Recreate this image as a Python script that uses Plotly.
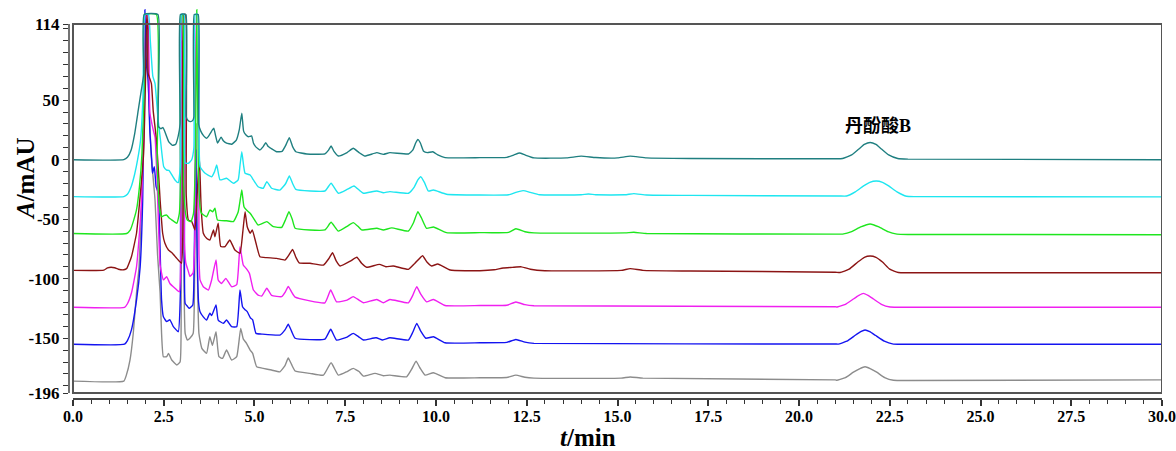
import plotly.graph_objects as go

# ---- data: (time [min], absorbance [mAU]) ----
teal_pts = [(0,0),(1.40,0),(1.50,2),(1.60,8),(1.70,22),(1.80,42),(1.88,58),(1.95,72),(1.96,122),(2.34,122),(2.35,28),(2.42,26),(2.48,27),(2.55,22),(2.64,15),(2.74,12),(2.83,13),(2.90,20),(2.95,30),(2.96,122),(3.11,122),(3.12,36),(3.17,33),(3.24,32),(3.30,33),(3.33,36),(3.34,122),(3.45,122),(3.46,30),(3.52,24),(3.60,20),(3.68,18),(3.76,21),(3.84,25),(3.88,26.5),(3.93,20),(3.98,14),(4.04,17),(4.08,19),(4.14,16),(4.23,14),(4.37,13),(4.50,16.5),(4.58,25),(4.65,39),(4.70,24),(4.76,21),(4.83,19.3),(4.92,20),(4.97,14),(5.03,11),(5.15,8.2),(5.24,11),(5.31,14.3),(5.38,11),(5.45,9.6),(5.61,6.7),(5.76,7),(5.86,12),(5.96,18.5),(6.05,11),(6.14,6.7),(6.44,4.8),(6.94,4.8),(7.04,8),(7.11,11.5),(7.19,7),(7.31,3.1),(7.55,6),(7.72,9.6),(7.88,6),(8.04,3.1),(8.37,5.9),(8.55,4.5),(8.73,5.9),(9.24,4.8),(9.36,8),(9.44,14),(9.50,17.1),(9.57,14),(9.66,7),(9.76,5.9),(9.91,6.7),(10.05,4),(10.25,1.7),(11.21,1.7),(11.95,2),(12.15,4),(12.30,5.6),(12.45,4),(12.70,1.5),(13.6,1.5),(14.0,3),(14.4,1.8),(15.0,1.5),(15.35,3),(15.8,1.5),(17.0,1),(21.0,0.8),(21.2,1),(21.45,4),(21.65,9),(21.8,12.8),(21.96,14.5),(22.12,12.8),(22.27,9),(22.47,4),(22.72,1),(23.0,0.5),(30,0)]

cyan_pts = [(0,-31),(1.40,-31),(1.50,-29),(1.60,-23),(1.70,-12),(1.78,0),(1.86,16),(1.93,55),(1.98,122),(2.08,122),(2.13,100),(2.20,70),(2.26,64),(2.34,35),(2.41,16.5),(2.50,-5.9),(2.58,-8.7),(2.64,-9),(2.69,-11),(2.81,-17),(2.90,-19.3),(2.96,-5),(2.99,122),(3.06,122),(3.09,-2.8),(3.18,-3),(3.27,0),(3.33,10),(3.37,122),(3.44,122),(3.50,-5.9),(3.64,-11.4),(3.82,-14.3),(3.90,-10),(3.96,-4.5),(4.05,-17),(4.23,-15.6),(4.42,-19.8),(4.55,-17),(4.60,-5),(4.65,6.7),(4.70,-5),(4.74,-11.4),(4.88,-12.9),(4.97,-17),(5.10,-22.7),(5.24,-24),(5.34,-18.5),(5.47,-24),(5.70,-25.5),(5.86,-20),(5.96,-13.7),(6.05,-20),(6.14,-24.9),(6.94,-26.3),(7.11,-19.8),(7.31,-28.2),(7.55,-25),(7.74,-22.1),(7.90,-26),(8.00,-28.2),(8.37,-26.3),(8.55,-27.8),(8.73,-26.8),(9.24,-28.2),(9.40,-23),(9.50,-17),(9.58,-14.3),(9.68,-19),(9.79,-26.3),(9.93,-25.5),(10.29,-29),(11.21,-29.7),(12.0,-29.5),(12.2,-27.5),(12.4,-26),(12.6,-27.5),(12.85,-29.5),(14.0,-29.5),(14.2,-28.8),(14.4,-29.5),(15.2,-29.5),(15.45,-28.5),(15.8,-29.7),(17,-30),(21.1,-30.5),(21.31,-30.5),(21.55,-27),(21.78,-22),(21.95,-19),(22.13,-17.9),(22.3,-19),(22.47,-22),(22.7,-27),(22.96,-30.7),(23.2,-31),(30,-31.2)]

green_pts = [(0,-62),(1.48,-62),(1.58,-59),(1.66,-52),(1.75,-42),(1.83,-23),(1.90,5),(1.96,60),(1.98,122),(2.30,122),(2.32,0),(2.38,-40),(2.44,-47.9),(2.50,-47),(2.58,-46.5),(2.65,-49),(2.72,-50.5),(2.86,-53.4),(2.93,-45),(2.96,-20),(2.98,122),(3.02,122),(3.05,-20),(3.10,-45),(3.15,-50.7),(3.25,-52),(3.32,-45),(3.37,0),(3.41,126),(3.45,0),(3.50,-40),(3.54,-45),(3.68,-47.9),(3.77,-42.3),(3.85,-43.7),(3.91,-40.8),(3.98,-50.7),(4.23,-51.3),(4.42,-52),(4.55,-44),(4.60,-35),(4.65,-25.5),(4.71,-39.5),(4.78,-42.3),(4.88,-45),(4.97,-49),(5.10,-54.9),(5.34,-52),(5.52,-56.3),(5.75,-56.8),(5.86,-50),(5.95,-43.7),(6.04,-50),(6.12,-57.6),(6.94,-59),(7.11,-52.6),(7.31,-60),(7.55,-56),(7.72,-52.9),(7.85,-56),(7.95,-59),(8.37,-57.6),(8.55,-59),(8.78,-57.3),(9.24,-59.9),(9.38,-53),(9.50,-43.7),(9.60,-49),(9.74,-57.6),(9.93,-56.5),(10.29,-61.3),(11.21,-61.3),(12.0,-61),(12.2,-58),(12.45,-60.5),(12.7,-61.5),(15.2,-61.5),(15.45,-61),(15.8,-62),(21.0,-62.5),(21.2,-62.5),(21.45,-60.5),(21.7,-56.5),(21.96,-54),(22.2,-56.5),(22.45,-60.5),(22.7,-62.5),(23,-62.8),(30,-63)]

brown_pts = [(0,-93),(0.85,-92.8),(0.95,-90.8),(1.05,-90.3),(1.15,-90.8),(1.25,-92),(1.40,-92.5),(1.48,-91.5),(1.61,-81.5),(1.75,-61.8),(1.84,-33.9),(1.94,2.5),(2.0,70),(2.03,122),(2.06,110),(2.07,72.6),(2.16,64),(2.21,41),(2.30,16.5),(2.40,-33.9),(2.47,-61.8),(2.53,-70),(2.63,-75.9),(2.72,-78),(2.86,-82.9),(2.99,-87),(3.03,-40),(3.05,122),(3.10,122),(3.12,-30),(3.18,-50.7),(3.27,-52),(3.36,-59),(3.42,-30),(3.48,3),(3.53,-40),(3.59,-61.8),(3.68,-66),(3.77,-67.5),(3.87,-59),(3.91,-64.7),(4.00,-53.4),(4.07,-73),(4.19,-73),(4.32,-67.5),(4.46,-75.9),(4.60,-78.7),(4.68,-60),(4.74,-43.7),(4.80,-56.3),(4.88,-61.8),(4.94,-59),(5.04,-70),(5.15,-81.5),(5.34,-82.3),(5.61,-82.9),(5.84,-84.3),(5.95,-80),(6.05,-75.4),(6.14,-82),(6.23,-86.6),(6.53,-87),(6.90,-88.5),(7.05,-83),(7.15,-78.2),(7.25,-85),(7.36,-89.3),(7.65,-85),(7.82,-82),(7.95,-87),(8.09,-90.4),(8.44,-87.9),(8.62,-89.9),(8.82,-89.3),(9.24,-92.1),(9.42,-87),(9.63,-80.7),(9.75,-86),(9.88,-89.3),(10.05,-87.6),(10.39,-92.7),(11.21,-93.3),(11.6,-92.5),(11.85,-91),(12.1,-90.5),(12.35,-90),(12.6,-92),(13.0,-93.3),(15.1,-93),(15.35,-91.5),(15.7,-93),(17,-93.5),(21.0,-94.5),(21.13,-94.8),(21.38,-92),(21.62,-86),(21.8,-82),(21.96,-80.9),(22.12,-82),(22.3,-86),(22.5,-92),(22.74,-94.8),(23,-95),(30,-95)]

magenta_pts = [(0,-124),(1.42,-124),(1.50,-121),(1.61,-112),(1.75,-90),(1.83,-61.8),(1.89,-33.9),(1.95,20),(1.99,122),(2.05,122),(2.12,39),(2.21,25),(2.26,19),(2.32,-20),(2.40,-88.5),(2.49,-101),(2.58,-98.3),(2.67,-104),(2.81,-108),(2.93,-111),(2.97,-80),(3.00,122),(3.04,122),(3.07,-70),(3.11,-87),(3.18,-94),(3.22,-98),(3.31,-95),(3.36,-60),(3.41,122),(3.44,122),(3.47,-80),(3.50,-101),(3.59,-106.7),(3.73,-109.5),(3.82,-101),(3.94,-84.3),(4.00,-101),(4.09,-104),(4.21,-99.7),(4.37,-106.7),(4.51,-105),(4.60,-73),(4.69,-88.5),(4.77,-91.3),(4.86,-95.5),(4.97,-109.5),(5.10,-113.7),(5.20,-114.5),(5.34,-108),(5.47,-114),(5.75,-115),(5.85,-111),(5.93,-106.4),(6.02,-111),(6.12,-115.5),(6.94,-120.2),(7.10,-109.5),(7.26,-119.4),(7.55,-118),(7.72,-115),(7.88,-118),(8.00,-120.2),(8.37,-117.4),(8.55,-120.2),(8.73,-117.4),(9.24,-120.2),(9.36,-114),(9.47,-106.7),(9.58,-113),(9.74,-119.4),(9.93,-117.4),(10.25,-122.5),(11.21,-122.5),(11.95,-122.3),(12.2,-119.6),(12.45,-121.8),(12.7,-122.7),(21.0,-123.5),(21.04,-123.8),(21.28,-121.5),(21.5,-117),(21.65,-114),(21.77,-112.3),(21.9,-114),(22.05,-117),(22.27,-121.5),(22.51,-123.8),(23,-124),(30,-124)]

blue_pts = [(0,-155),(1.42,-155),(1.50,-152),(1.61,-143),(1.75,-118),(1.85,-90),(1.92,-34),(1.96,60),(1.98,126),(2.01,90),(2.03,78),(2.07,66.7),(2.12,22),(2.17,-0.3),(2.19,-11.5),(2.24,-5.9),(2.29,-22.7),(2.35,-28.2),(2.40,-75.9),(2.44,-118),(2.49,-132),(2.58,-136),(2.67,-134.5),(2.76,-140),(2.90,-144.5),(2.96,-110),(3.00,122),(3.04,122),(3.07,-80),(3.09,-120.7),(3.15,-123),(3.20,-124.9),(3.30,-122),(3.34,-80),(3.38,8),(3.42,-80),(3.46,-120),(3.50,-127.7),(3.59,-132),(3.68,-134.7),(3.77,-129),(3.82,-131),(3.94,-122),(4.00,-134.7),(4.14,-137.5),(4.23,-134.7),(4.37,-140.3),(4.51,-140.3),(4.60,-109.5),(4.67,-123.5),(4.74,-126),(4.80,-127.7),(4.89,-133),(4.95,-134.5),(5.04,-145.9),(5.20,-146.5),(5.70,-147.3),(5.84,-143),(5.93,-138.3),(6.02,-144),(6.12,-150),(6.94,-150.7),(7.10,-142.5),(7.26,-151.5),(7.55,-149),(7.72,-145.9),(7.88,-149),(8.00,-151.5),(8.35,-149.6),(8.53,-151.5),(8.73,-149.6),(9.24,-151.5),(9.36,-145),(9.47,-137.5),(9.58,-144),(9.72,-150),(9.93,-148.7),(10.25,-153.8),(11.21,-153.8),(11.95,-153.5),(12.2,-151),(12.45,-153.3),(12.7,-154.3),(21.0,-154.8),(21.08,-154.9),(21.32,-152.5),(21.55,-147.5),(21.7,-144.5),(21.82,-143.1),(21.95,-144.5),(22.1,-147.5),(22.35,-152.5),(22.6,-154.9),(23,-155),(30,-155)]

gray_pts = [(0,-186),(1.40,-186),(1.47,-181),(1.57,-168.4),(1.66,-146),(1.75,-112),(1.82,-90),(1.90,-30),(1.96,50),(2.02,110),(2.08,60),(2.15,5),(2.23,-22.7),(2.26,-33.9),(2.33,-80),(2.40,-112),(2.44,-146),(2.49,-165.5),(2.58,-165.5),(2.63,-162.7),(2.72,-168.3),(2.86,-172.5),(2.95,-170),(2.98,-100),(3.01,100),(3.05,-80),(3.09,-146),(3.15,-151.5),(3.22,-150),(3.31,-146),(3.35,-100),(3.39,30),(3.43,-100),(3.47,-146),(3.55,-158.5),(3.68,-162.7),(3.77,-148.7),(3.84,-156),(3.94,-144.5),(4.02,-165.5),(4.12,-166.9),(4.23,-159.9),(4.37,-168.3),(4.51,-165.5),(4.62,-141.7),(4.69,-150.5),(4.78,-154.3),(4.88,-159.9),(4.95,-162.7),(5.06,-174),(5.24,-175.3),(5.47,-176.7),(5.70,-178.2),(5.84,-173),(5.93,-166.6),(6.02,-172),(6.12,-177.5),(6.53,-179.5),(6.90,-181),(7.11,-170.6),(7.31,-181),(7.55,-178),(7.72,-175.3),(7.88,-178),(8.00,-181.8),(8.32,-179.5),(8.55,-181.5),(8.73,-181),(9.19,-182.4),(9.33,-176),(9.45,-169.2),(9.56,-175),(9.70,-181),(9.93,-179),(10.25,-183.2),(11.21,-183.2),(11.95,-183),(12.2,-181),(12.45,-182.8),(12.7,-183.5),(15.1,-183.5),(15.35,-182.5),(15.7,-183.5),(21.0,-185),(21.04,-185.3),(21.28,-183),(21.5,-178.5),(21.68,-175.5),(21.82,-174),(21.96,-175.5),(22.14,-178.5),(22.36,-183),(22.6,-185.3),(23,-185.5),(30,-185)]

# draw order: bottom trace first, teal on top
series = [
    (gray_pts, "#8c8c8c"),
    (blue_pts, "#1414f0"),
    (magenta_pts, "#f020f0"),
    (brown_pts, "#8b1414"),
    (green_pts, "#1ee61e"),
    (cyan_pts, "#1ee6f0"),
    (teal_pts, "#1f7f80"),
]

y_tick_vals = [114, 110, 100, 90, 80, 70, 60, 50, 40, 30, 20, 10, 0, -10, -20, -30, -40, -50,
               -60, -70, -80, -90, -100, -110, -120, -130, -140, -150, -160, -170, -180, -190, -196]
y_tick_labels = {114: "114", 50: "50", 0: "0", -50: "-50", -100: "-100", -150: "-150", -196: "-196"}
y_tick_text = ["<b>%s</b>" % y_tick_labels[v] if v in y_tick_labels else "" for v in y_tick_vals]

x_tick_vals = [0, 2.5, 5, 7.5, 10, 12.5, 15, 17.5, 20, 22.5, 25, 27.5, 30]
x_tick_text = ["<b>%.1f</b>" % v for v in x_tick_vals]

peak_label = "丹酚酸B"
peak_label_pos = (22.18, 28.5)

Y_MIN, Y_MAX = -196, 114
X_MIN, X_MAX = 0, 30

fig = go.Figure()
for pts, col in series:
    fig.add_trace(go.Scatter(
        x=[p[0] for p in pts], y=[p[1] for p in pts],
        mode="lines", line=dict(color=col, width=1.4, shape="spline", smoothing=0.4),
        showlegend=False, hoverinfo="skip"))

serif = "Liberation Serif, Times New Roman, serif"

fig.update_layout(
    width=1176, height=451,
    margin=dict(l=69, r=14, t=8, b=52, autoexpand=False),
    paper_bgcolor="white", plot_bgcolor="white",
    font=dict(family=serif, color="black"),
    xaxis=dict(
        range=[-0.110, 30.0], showgrid=False, zeroline=False, showline=False, automargin=False,
        tickmode="array", tickvals=x_tick_vals, ticktext=x_tick_text,
        ticks="outside", ticklen=6, tickwidth=1.5, tickcolor="#333", ticklabelstandoff=-3,
        tickfont=dict(family=serif, size=16, color="black"),
        minor=dict(ticks="outside", dtick=0.5, tick0=0, ticklen=4, tickwidth=1.2, tickcolor="#333", showgrid=False),
    ),
    yaxis=dict(
        range=[-201.04, 127.44], showgrid=False, zeroline=False, showline=False, automargin=False,
        tickmode="array", tickvals=y_tick_vals, ticktext=y_tick_text,
        ticks="outside", ticklen=5, tickwidth=1.2, tickcolor="#333",
        tickfont=dict(family=serif, size=17, color="black"),
    ),
    shapes=[
        dict(type="rect", xref="x", yref="y", x0=X_MIN, x1=X_MAX, y0=Y_MIN, y1=Y_MAX,
             line=dict(color="#555", width=2), layer="above"),
        dict(type="line", xref="paper", yref="y", x0=0, x1=0, y0=Y_MIN, y1=Y_MAX,
             line=dict(color="#444", width=1.5)),
        dict(type="line", xref="x", yref="paper", x0=X_MIN, x1=X_MAX, y0=0, y1=0,
             line=dict(color="#444", width=1.8)),
    ],
    annotations=[
        dict(x=peak_label_pos[0], y=peak_label_pos[1], xref="x", yref="y",
             xanchor="center", yanchor="middle",
             text="<b>" + peak_label + "</b>", showarrow=False,
             font=dict(family="Liberation Serif, Noto Sans CJK SC", size=18, color="black")),
        dict(x=-0.0403, y=0.565, xref="paper", yref="paper", textangle=-90,
             xanchor="center", yanchor="middle",
             text="<b><i>A</i>/mAU</b>", showarrow=False,
             font=dict(family=serif, size=25, color="black")),
        dict(x=0.4748, y=-0.0972, xref="paper", yref="paper",
             xanchor="center", yanchor="middle",
             text="<b><i>t</i>/min</b>", showarrow=False,
             font=dict(family=serif, size=25, color="black")),
    ],
)

fig.write_html("out.html")
